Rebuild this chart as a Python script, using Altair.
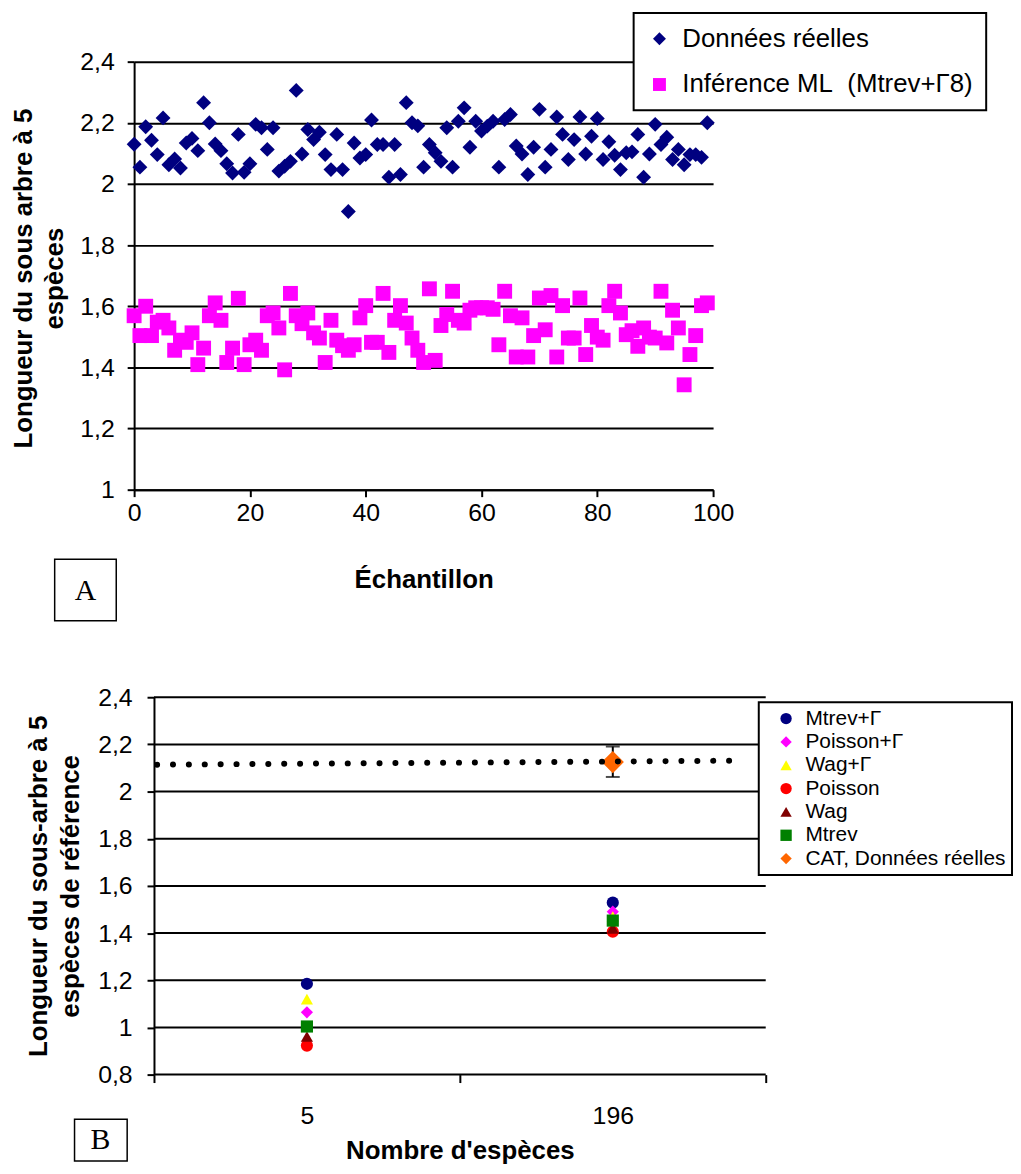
import altair as alt
import pandas as pd

FONT = "Liberation Sans"
SERIF = "Liberation Serif"

# ---------------- Panel A data ----------------
echantillon = list(range(100))
donnees_reelles = [
    2.130, 2.055, 2.187, 2.143, 2.096, 2.216, 2.063, 2.082, 2.052, 2.134,
    2.149, 2.109, 2.266, 2.200, 2.131, 2.109, 2.066, 2.036, 2.162, 2.038,
    2.066, 2.195, 2.184, 2.113, 2.184, 2.042, 2.058, 2.074, 2.306, 2.098,
    2.178, 2.145, 2.169, 2.096, 2.047, 2.162, 2.047, 1.910, 2.134, 2.085,
    2.096, 2.209, 2.129, 2.129, 2.022, 2.129, 2.031, 2.266, 2.200, 2.190,
    2.055, 2.129, 2.102, 2.074, 2.184, 2.055, 2.205, 2.249, 2.120, 2.205,
    2.173, 2.189, 2.205, 2.055, 2.211, 2.227, 2.124, 2.098, 2.031, 2.120,
    2.244, 2.055, 2.113, 2.219, 2.162, 2.080, 2.145, 2.219, 2.098, 2.156,
    2.214, 2.080, 2.138, 2.094, 2.047, 2.102, 2.105, 2.162, 2.022, 2.098,
    2.195, 2.129, 2.153, 2.080, 2.113, 2.063, 2.096, 2.096, 2.087, 2.200,
]
inference_ml = [
    1.569, 1.504, 1.600, 1.504, 1.548, 1.554, 1.529, 1.456, 1.489, 1.482,
    1.513, 1.409, 1.463, 1.569, 1.611, 1.554, 1.416, 1.463, 1.626, 1.409,
    1.474, 1.489, 1.456, 1.569, 1.578, 1.529, 1.392, 1.642, 1.569, 1.543,
    1.578, 1.513, 1.496, 1.416, 1.554, 1.489, 1.471, 1.456, 1.474, 1.562,
    1.602, 1.482, 1.482, 1.642, 1.449, 1.554, 1.602, 1.545, 1.496, 1.456,
    1.416, 1.657, 1.423, 1.537, 1.573, 1.649, 1.554, 1.545, 1.587, 1.595,
    1.595, 1.595, 1.590, 1.474, 1.649, 1.569, 1.434, 1.562, 1.434, 1.504,
    1.627, 1.523, 1.635, 1.434, 1.602, 1.496, 1.496, 1.627, 1.442, 1.537,
    1.499, 1.489, 1.602, 1.649, 1.578, 1.507, 1.520, 1.469, 1.529, 1.499,
    1.496, 1.649, 1.480, 1.587, 1.529, 1.343, 1.442, 1.504, 1.602, 1.611,
]
series_a = ["Données réelles", "Inférence ML\u00a0 (Mtrev+Γ8)"]
couleurs_a = ["#000080", "#FF00FF"]
formes_a = ["diamond", "square"]
ticks_x_a = [0, 20, 40, 60, 80, 100]
ticks_y_a = [1.0, 1.2, 1.4, 1.6, 1.8, 2.0, 2.2, 2.4]

# ---------------- Panel B data ----------------
especes = ["5", "196"]
modeles = ["Mtrev+Γ", "Poisson+Γ", "Wag+Γ", "Poisson", "Wag", "Mtrev",
           "CAT, Données réelles"]
couleurs_b = ["#000080", "#FF00FF", "#FFFF00", "#FF0000", "#800000", "#008000", "#FF6600"]
formes_b = ["circle", "diamond", "triangle-up", "circle", "triangle-up", "square", "diamond"]
valeurs_5 = [1.185, 1.064, 1.120, 0.923, 0.962, 1.004]
valeurs_196 = [1.529, 1.491, 1.470, 1.406, 1.420, 1.453]
cat_196 = 2.125
cat_barre = [2.062, 2.191]
tendance_pos = [0.51, 2.41]
tendance_val = [2.114, 2.131]
ticks_y_b = [0.8, 1.0, 1.2, 1.4, 1.6, 1.8, 2.0, 2.2, 2.4]

comma = "replace(format(datum.value, '~g'), '.', ',')"

# ================= Panel A =================
df_a = pd.DataFrame({
    "ech": echantillon * 2,
    "val": donnees_reelles + inference_ml,
    "serie": [series_a[0]] * len(donnees_reelles) + [series_a[1]] * len(inference_ml),
})

x_a = alt.X("ech:Q", scale=alt.Scale(domain=[0, 100], nice=False, zero=False),
            axis=alt.Axis(values=ticks_x_a, title="Échantillon", grid=False,
                          tickSize=7, labelPadding=4, titleY=99,
                          titleBaseline="alphabetic"))
y_a = alt.Y("val:Q", scale=alt.Scale(domain=[1, 2.4], nice=False, zero=False),
            axis=alt.Axis(values=ticks_y_a, labelExpr=comma, grid=True,
                          title=["Longueur du sous arbre à 5", "espèces"],
                          titleX=-124, titleY=218, titleAngle=270,
                          titleBaseline="top", titleAlign="center",
                          titleLineHeight=31, tickSize=7, labelPadding=13))

leg_a = alt.Legend(orient="none", legendX=503, legendY=-49, title=None,
                   labelFontSize=26, symbolSize=169, symbolStrokeWidth=0,
                   padding=13, rowPadding=20, labelOffset=10, labelLimit=500,
                   strokeColor="black", fillColor="white")

pts_a = alt.Chart(df_a).mark_point(filled=True, opacity=1, size=225).encode(
    x=x_a, y=y_a,
    color=alt.Color("serie:N", scale=alt.Scale(domain=series_a, range=couleurs_a), legend=leg_a),
    shape=alt.Shape("serie:N", scale=alt.Scale(domain=series_a, range=formes_a), legend=leg_a),
)

box_df_a = pd.DataFrame({"lettre": ["A"]})
box_a = alt.Chart(box_df_a).mark_rect(fill="white", stroke="black", strokeWidth=1.5).encode(
    x=alt.value(-80), x2=alt.value(-18), y=alt.value(501), y2=alt.value(563))
txt_a = alt.Chart(box_df_a).mark_text(font=SERIF, fontSize=30, color="black",
                                       baseline="middle", align="center").encode(
    x=alt.value(-49), y=alt.value(533), text="lettre:N")

panel_a = alt.layer(pts_a, box_a, txt_a).properties(width=583, height=431)

# ================= Panel B =================
# panel B's plot starts 20 px to the right of panel A's: the x scale is widened
# on the left by that amount and the y axis is moved inward to match.
B_W = 616
B_SHIFT = 20
unit_px = B_W / len(especes)
bornes = [k + 0.5 for k in range(len(especes) + 1)]
centres = [k + 1 for k in range(len(especes))]
x_dom_b = [bornes[0] - B_SHIFT / unit_px, bornes[-1]]

rows = []
for i, m in enumerate(modeles[:-1]):
    rows.append({"pos": centres[0], "val": valeurs_5[i], "modele": m})
    rows.append({"pos": centres[1], "val": valeurs_196[i], "modele": m})
df_b = pd.DataFrame(rows)
df_cat = pd.DataFrame({"pos": [centres[1]], "val": [cat_196], "modele": [modeles[-1]]})

label_expr_b = " : ".join(f"datum.value == {c} ? '{e}'" for c, e in zip(centres, especes)) + " : ''"
tick_cond = {"condition": {"test": "datum.value % 1 == 0", "value": 0}, "value": 1}

x_b = alt.X("pos:Q", scale=alt.Scale(domain=x_dom_b, nice=False, zero=False),
            axis=alt.Axis(values=sorted(bornes + centres), labelExpr=label_expr_b,
                          tickOpacity=tick_cond, tickSize=8, labelPadding=21, grid=False,
                          domain=False,
                          title="Nombre d'espèces", titleX=B_SHIFT + B_W / 2, titleY=84,
                          titleBaseline="alphabetic"))
y_b = alt.Y("val:Q", scale=alt.Scale(domain=[0.8, 2.4], nice=False, zero=False),
            axis=alt.Axis(values=ticks_y_b, labelExpr=comma, grid=False, offset=-B_SHIFT,
                          title=["Longueur du sous-arbre à 5", "espèces de référence"],
                          titleX=-129, titleY=190, titleAngle=270,
                          titleBaseline="top", titleAlign="center",
                          titleLineHeight=32, tickSize=7, labelPadding=15))

leg_b = alt.Legend(orient="none", legendX=629, legendY=5, title=None,
                   labelFontSize=21, symbolSize=130, symbolStrokeWidth=0,
                   padding=6, rowPadding=1.5, symbolOffset=11, labelOffset=9,
                   labelLimit=500, strokeColor="black", fillColor="white")

df_grid = pd.DataFrame({"val": ticks_y_b, "pos": [bornes[0]] * len(ticks_y_b),
                        "pos2": [bornes[-1]] * len(ticks_y_b)})
grid_b = alt.Chart(df_grid).mark_rule(color="black", strokeWidth=2).encode(
    x=x_b, x2="pos2:Q", y=y_b)

df_err = pd.DataFrame({"pos": [centres[1]], "val": [cat_barre[0]], "val2": [cat_barre[1]]})
err_rule = alt.Chart(df_err).mark_rule(color="black", strokeWidth=2).encode(
    x=x_b, y=y_b, y2="val2:Q")
df_caps = pd.DataFrame({"pos": [centres[1]] * 2, "val": cat_barre})
err_caps = alt.Chart(df_caps).mark_tick(orient="horizontal", size=14, thickness=2,
                                        color="black").encode(x=x_b, y=y_b)

pts_b = alt.Chart(df_b).mark_point(filled=True, opacity=1, size=150).encode(
    x=x_b, y=y_b,
    color=alt.Color("modele:N", scale=alt.Scale(domain=modeles, range=couleurs_b), legend=leg_b),
    shape=alt.Shape("modele:N", scale=alt.Scale(domain=modeles, range=formes_b), legend=leg_b),
)
cat_b = alt.Chart(df_cat).mark_point(filled=True, opacity=1, size=500, shape="diamond",
                                     color="#FF6600").encode(x=x_b, y=y_b)

df_tend = pd.DataFrame({"pos": tendance_pos, "val": tendance_val})
tend_b = alt.Chart(df_tend).mark_line(color="black", strokeWidth=6, strokeDash=[0.1, 15.9],
                                      strokeCap="round").encode(x=x_b, y=y_b)

box_df_b = pd.DataFrame({"lettre": ["B"]})
box_b = alt.Chart(box_df_b).mark_rect(fill="white", stroke="black", strokeWidth=1.5).encode(
    x=alt.value(-60), x2=alt.value(-7), y=alt.value(425), y2=alt.value(467))
txt_b = alt.Chart(box_df_b).mark_text(font=SERIF, fontSize=30, color="black",
                                       baseline="middle", align="center").encode(
    x=alt.value(-34), y=alt.value(446), text="lettre:N")

panel_b = alt.layer(grid_b, err_rule, err_caps, pts_b, cat_b, tend_b, box_b, txt_b).properties(
    width=B_W + B_SHIFT, height=380)

chart = alt.vconcat(panel_a, panel_b, spacing=64).resolve_scale(
    color="independent", shape="independent", x="independent", y="independent"
).properties(padding={"left": 3, "top": 0, "right": 0, "bottom": 0}).configure(
    font=FONT).configure_view(strokeOpacity=0).configure_axis(
    labelFont=FONT, labelFontSize=25, labelColor="black",
    titleFont=FONT, titleFontSize=26, titleFontWeight="bold", titleColor="black",
    domainColor="black", domainWidth=2, tickColor="black", tickWidth=2,
    gridColor="black", gridWidth=2, gridOpacity=1, labelFlush=False
).configure_legend(strokeWidth=2, labelFont=FONT, labelColor="black")

chart.save("out.html", embed_options={"renderer": "svg", "actions": False})
